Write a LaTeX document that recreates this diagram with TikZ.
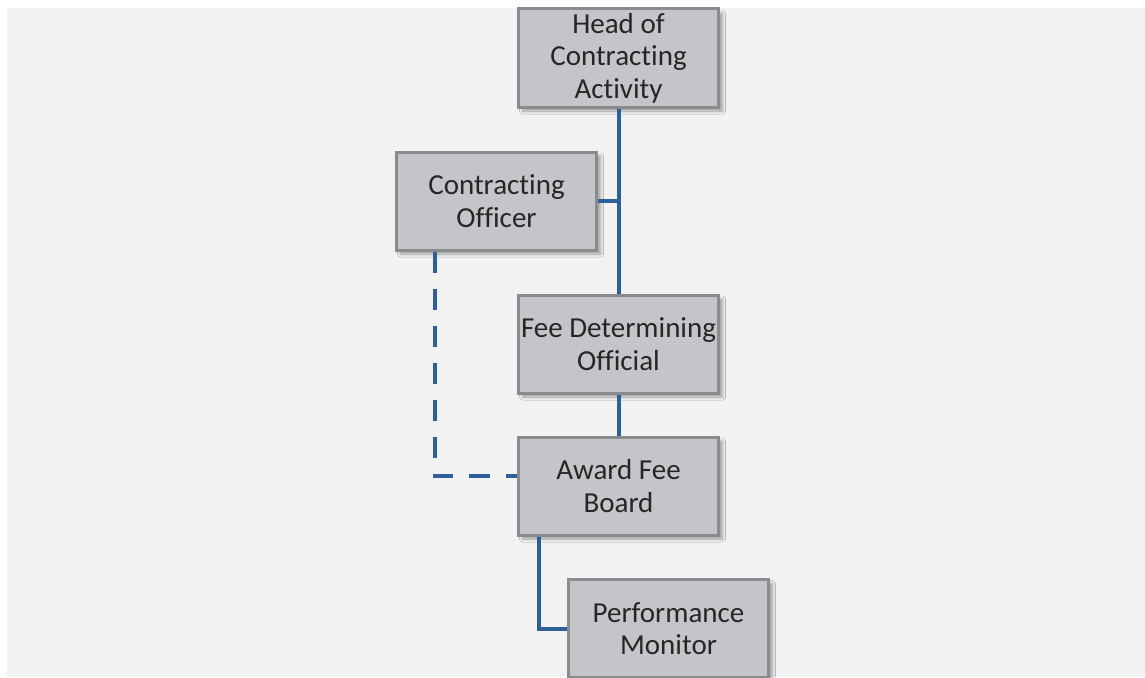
\documentclass[tikz,border=0pt]{standalone}
\usepackage{fontspec}
\setmainfont{Carlito}[Ligatures={NoCommon}]
\usetikzlibrary{shadows.blur}
\definecolor{bg}{HTML}{F2F2F2}
\definecolor{boxfill}{HTML}{C4C5C9}
\definecolor{boxline}{HTML}{8A8B8E}
\definecolor{conn}{HTML}{2F5F98}
\definecolor{txt}{HTML}{262626}
\tikzset{
  orgbox/.style={draw=boxline, line width=3pt, fill=boxfill, minimum width=200pt, minimum height=98pt,
    inner sep=0pt, align=center, text=txt, font=\fontsize{29}{32.5}\selectfont,
    blur shadow={shadow xshift=4pt, shadow yshift=-4pt, shadow blur steps=6, shadow opacity=35, shadow blur radius=3pt}},
  link/.style={draw=conn, line width=4pt},
  dashlink/.style={link, dash pattern=on 21pt off 16pt}
}
\begin{document}
\begin{tikzpicture}[x=1pt,y=-1pt]
\useasboundingbox (0,0) rectangle (1145,677);
\clip (0,0) rectangle (1145,677);
\fill[bg] (7,8) rectangle (1145,677);
\node[orgbox] (head) at (618.5,58) {Head of\\Contracting\\Activity};
\node[orgbox] (co) at (496.5,201) {Contracting\\Officer};
\node[orgbox] (fdo) at (618.5,344) {Fee Determining\\Official};
\node[orgbox] (afb) at (618.5,486) {Award Fee\\Board};
\node[orgbox] (pm) at (668.5,628.5) {Performance\\Monitor};
\draw[link] (head.south) -- (fdo.north);
\draw[link] (co.east) -- (co.east -| head.south);
\draw[link] (fdo.south) -- (afb.north);
\draw[dashlink] ([xshift=-62pt]co.south) |- ([yshift=10pt]afb.west);
\draw[link] ([xshift=-80pt]afb.south) |- (pm.west);
\end{tikzpicture}
\end{document}
